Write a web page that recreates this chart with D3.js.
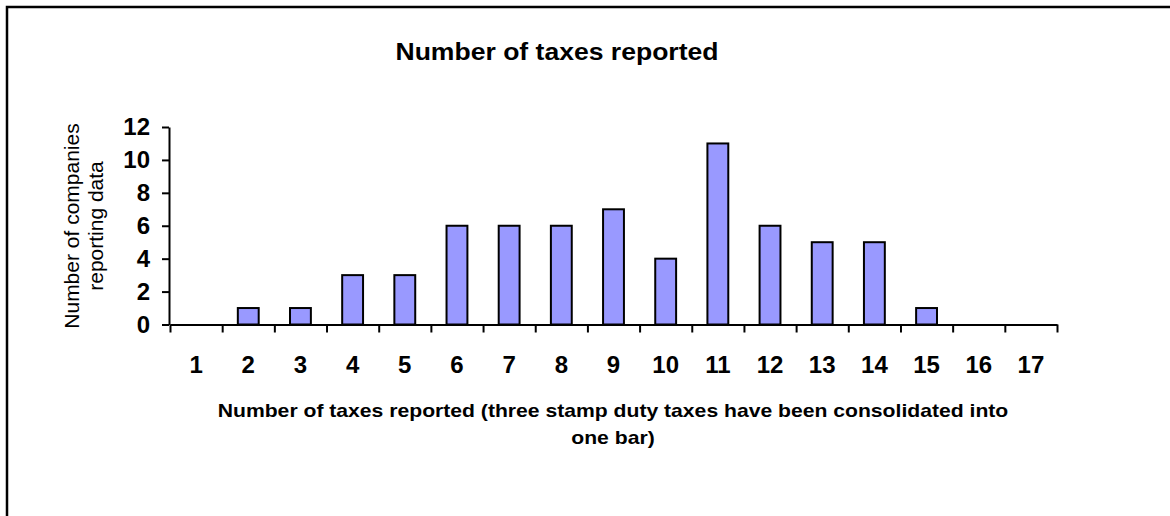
<!DOCTYPE html>
<html>
<head>
<meta charset="utf-8">
<script src="https://cdn.jsdelivr.net/npm/d3@7"></script>
<style>
  html, body { margin: 0; padding: 0; background: #fff; }
  svg { display: block; font-family: "Liberation Sans", Arial, sans-serif; }
</style>
</head>
<body>
<svg id="chart" width="1170" height="516"></svg>
<script>
// Number of taxes reported per company (x) and how many companies reported that many (y)
const categories = ["1","2","3","4","5","6","7","8","9","10","11","12","13","14","15","16","17"];
const companies = [0, 1, 1, 3, 3, 6, 6, 6, 7, 4, 11, 6, 5, 5, 1, 0, 0];
const yTicks = [0, 2, 4, 6, 8, 10, 12];

const chartTitle = "Number of taxes reported";
const xTitleLines = ["Number of taxes reported (three stamp duty taxes have been consolidated into", "one bar)"];
const yTitleLines = ["Number of companies", "reporting data"];

const svg = d3.select("#chart");
const W = 1170, H = 516;
const plot = { left: 170, right: 1057, top: 127, bottom: 324.5 };

// outer frame (left and top edges visible)
svg.append("rect")
  .attr("x", 7).attr("y", 7)
  .attr("width", W + 20).attr("height", H + 20)
  .attr("fill", "none").attr("stroke", "#000").attr("stroke-width", 2.5);

const x = d3.scaleBand()
  .domain(categories)
  .range([plot.left, plot.right])
  .paddingInner(0.6)
  .paddingOuter(0.3);

const xEdges = d3.scaleLinear()
  .domain([0, categories.length])
  .range([plot.left, plot.right]);

const y = d3.scaleLinear()
  .domain([0, 12])
  .range([plot.bottom, plot.top]);

// bars
svg.append("g")
  .selectAll("rect")
  .data(companies.map((v, i) => ({ cat: categories[i], v })).filter(d => d.v > 0))
  .join("rect")
  .attr("x", d => x(d.cat))
  .attr("y", d => y(d.v))
  .attr("width", x.bandwidth())
  .attr("height", d => y(0) - y(d.v))
  .attr("fill", "#9999ff")
  .attr("stroke", "#000")
  .attr("stroke-width", 2);

// y axis
const yAxis = svg.append("g")
  .attr("transform", `translate(${plot.left - 1},0)`)
  .call(d3.axisLeft(y).tickValues(yTicks).tickSize(7).tickSizeOuter(0).tickPadding(12));
yAxis.select(".domain").attr("stroke-width", 2);
yAxis.selectAll(".tick line").attr("stroke-width", 2);
yAxis.selectAll(".tick text")
  .attr("font-size", 24).attr("font-weight", "bold")
  .attr("font-family", "Liberation Sans, Arial, sans-serif")
  .attr("fill", "#000");

// x axis: boundary ticks
const xAxis = svg.append("g")
  .attr("transform", `translate(0,${plot.bottom})`)
  .call(d3.axisBottom(xEdges).tickValues(d3.range(categories.length + 1)).tickFormat("").tickSize(8).tickSizeOuter(0));
xAxis.select(".domain").attr("stroke-width", 2);
xAxis.selectAll(".tick line").attr("stroke-width", 2);

// x axis: category labels centred under bars
const xLabels = svg.append("g")
  .attr("transform", `translate(0,${plot.bottom})`)
  .call(d3.axisBottom(x).tickSize(0).tickPadding(31));
xLabels.select(".domain").remove();
xLabels.selectAll(".tick text")
  .attr("font-size", 24).attr("font-weight", "bold")
  .attr("font-family", "Liberation Sans, Arial, sans-serif")
  .attr("fill", "#000");

// chart title
svg.append("text")
  .attr("transform", "translate(557,60) scale(1.155,1)")
  .attr("text-anchor", "middle")
  .attr("font-size", 23).attr("font-weight", "bold")
  .text(chartTitle);

// x axis title
svg.append("g")
  .selectAll("text")
  .data(xTitleLines)
  .join("text")
  .attr("transform", (d, i) => `translate(613,${417 + i * 27}) scale(1.113,1)`)
  .attr("text-anchor", "middle")
  .attr("font-size", 19).attr("font-weight", "bold")
  .text(d => d);

// y axis title
svg.append("g")
  .selectAll("text")
  .data(yTitleLines)
  .join("text")
  .attr("transform", (d, i) => `translate(${79 + i * 24},226) rotate(-90)`)
  .attr("text-anchor", "middle")
  .attr("font-size", 21)
  .text(d => d);
</script>
</body>
</html>
